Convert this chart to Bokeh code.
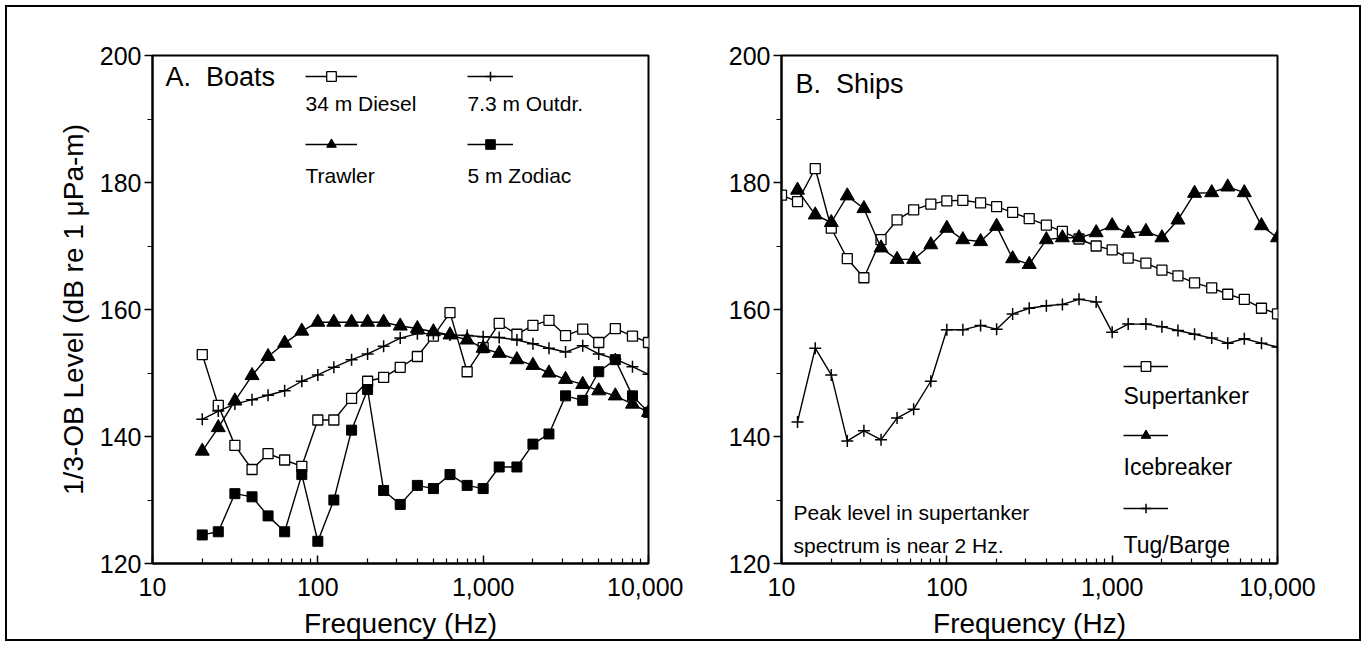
from bokeh.plotting import figure
from bokeh.layouts import row
from bokeh.models import FixedTicker, Range1d, Label, Legend, LegendItem
from bokeh.embed import file_html
from bokeh.resources import INLINE

# ---------------- data ----------------
freq_boats = [20, 25, 31.5, 40, 50, 63, 80, 100, 125, 160, 200, 250, 315, 400, 500,
              630, 800, 1000, 1250, 1600, 2000, 2500, 3150, 4000, 5000, 6300, 8000, 10000]
diesel = [152.9, 144.9, 138.6, 134.8, 137.3, 136.3, 135.3, 142.6, 142.6, 146.0, 148.7, 149.3,
          150.9, 152.6, 155.8, 159.5, 150.2, 154.0, 157.8, 156.1, 157.5, 158.3, 155.9, 156.9,
          154.8, 157.0, 155.8, 154.8]
outdr = [142.7, 144.0, 145.1, 145.8, 146.5, 147.2, 148.7, 149.7, 150.9, 152.1, 153.0, 154.2,
         155.5, 156.2, 156.2, 156.0, 155.9, 155.7, 155.6, 155.2, 154.6, 153.9, 153.3, 154.3,
         153.0, 152.2, 151.0, 149.8]
trawler = [137.7, 141.4, 145.6, 149.6, 152.6, 154.7, 156.6, 158.0, 158.0, 158.0, 158.0, 158.0,
           157.4, 157.0, 156.5, 156.0, 155.2, 153.9, 153.1, 152.1, 151.2, 150.0, 149.0, 148.2,
           147.2, 146.4, 145.1, 143.8]
zodiac = [124.5, 125.0, 131.0, 130.5, 127.5, 125.0, 134.0, 123.5, 130.0, 141.0, 147.4, 131.5,
          129.3, 132.3, 131.8, 134.0, 132.3, 131.8, 135.2, 135.2, 138.8, 140.4, 146.4, 145.7,
          150.2, 152.1, 146.4, 143.8]

freq_super = [10, 12.5, 16, 20, 25, 31.5, 40, 50, 63, 80, 100, 125, 160, 200, 250, 315, 400,
              500, 630, 800, 1000, 1250, 1600, 2000, 2500, 3150, 4000, 5000, 6300, 8000, 10000]
supertanker = [178.0, 177.0, 182.2, 172.8, 168.0, 165.0, 171.0, 174.1, 175.7, 176.6, 177.1,
               177.2, 176.8, 176.2, 175.3, 174.3, 173.3, 172.3, 171.1, 170.0, 169.4, 168.1,
               167.3, 166.2, 165.3, 164.2, 163.4, 162.4, 161.6, 160.2, 159.3]
freq_ships = [12.5, 16, 20, 25, 31.5, 40, 50, 63, 80, 100, 125, 160, 200, 250, 315, 400,
              500, 630, 800, 1000, 1250, 1600, 2000, 2500, 3150, 4000, 5000, 6300, 8000, 10000]
icebreaker = [178.8, 174.9, 173.7, 177.9, 175.9, 169.7, 167.9, 167.9, 170.2, 172.8, 171.0,
              170.7, 173.1, 168.0, 167.1, 171.0, 171.3, 171.3, 172.1, 173.2, 172.0, 172.3,
              171.3, 174.1, 178.3, 178.4, 179.3, 178.4, 173.2, 171.3]
tug = [142.3, 153.9, 149.7, 139.3, 140.9, 139.5, 142.9, 144.3, 148.7, 156.8, 156.8, 157.5,
       156.9, 159.3, 160.2, 160.6, 160.8, 161.6, 161.2, 156.4, 157.7, 157.7, 157.3, 156.7,
       156.1, 155.5, 154.7, 155.4, 154.7, 154.1]

x_major = [10, 100, 1000, 10000]
x_major_labels = ["10", "100", "1,000", "10,000"]
x_minor = [20, 30, 40, 50, 60, 70, 80, 90, 200, 300, 400, 500, 600, 700, 800, 900,
           2000, 3000, 4000, 5000, 6000, 7000, 8000, 9000]
y_major = [120, 140, 160, 180, 200]
y_minor = [130, 150, 170, 190]

FONT = "Liberation Sans"


def make_fig(width, ml, mr, mt, mb, ylabel):
    p = figure(width=width, height=646, x_axis_type="log", output_backend="svg",
               toolbar_location=None, x_range=Range1d(10, 10000), y_range=Range1d(120, 200),
               min_border_left=ml, min_border_right=mr, min_border_top=mt, min_border_bottom=mb)
    p.grid.visible = False
    p.outline_line_color = "black"
    p.outline_line_width = 2
    p.background_fill_color = "white"
    p.border_fill_alpha = 0
    xa = p.xaxis[0]
    xa.ticker = FixedTicker(ticks=x_major, minor_ticks=x_minor)
    xa.major_label_overrides = {t: l for t, l in zip(x_major, x_major_labels)}
    xa.major_tick_in = 8
    xa.major_tick_out = 0
    xa.minor_tick_in = 5
    xa.minor_tick_out = 0
    xa.axis_label = "Frequency (Hz)"
    xa.major_label_standoff = 14
    xa.axis_label_standoff = 9
    ya = p.yaxis[0]
    ya.ticker = FixedTicker(ticks=y_major, minor_ticks=y_minor)
    ya.major_tick_in = 0
    ya.major_tick_out = 8
    ya.minor_tick_in = 0
    ya.minor_tick_out = 5
    ya.major_label_standoff = 3
    if ylabel:
        ya.axis_label = ylabel
        ya.axis_label_standoff = 8
    for ax in (xa, ya):
        ax.axis_line_width = 2
        ax.axis_line_color = "black"
        ax.major_tick_line_width = 1.5
        ax.minor_tick_line_width = 1.2
        ax.major_label_text_font = FONT
        ax.major_label_text_font_size = "25px"
        ax.major_label_text_color = "black"
        ax.axis_label_text_font = FONT
        ax.axis_label_text_font_size = "28px"
        ax.axis_label_text_font_style = "normal"
        ax.axis_label_text_color = "black"
    return p


def series(p, xs, ys, kind):
    ln = p.line(xs, ys, line_color="black", line_width=1.4)
    if kind == "open_square":
        sc = p.scatter(xs, ys, marker="square", size=10, fill_color="white",
                       line_color="black", line_width=1.3)
    elif kind == "triangle":
        sc = p.scatter(xs, ys, marker="triangle", size=14, fill_color="black",
                       line_color="black")
    elif kind == "square":
        sc = p.scatter(xs, ys, marker="square", size=10, fill_color="black",
                       line_color="black")
    else:
        sc = p.scatter(xs, ys, marker="cross", size=12, line_color="black", line_width=1.5)
    return [ln, sc]


def key(p, rends, x, y, w):
    lg = Legend(items=[LegendItem(label=" ", renderers=rends)], location=(x, y),
                glyph_width=w, glyph_height=24, padding=0, margin=0, spacing=0,
                label_standoff=0, label_width=1, label_height=24,
                label_text_font_size="6px", border_line_color=None,
                background_fill_alpha=0)
    p.add_layout(lg, "center")


def text(p, x, y, s, size):
    p.add_layout(Label(x=x, y=y, x_units="screen", y_units="screen", text=s,
                       text_font=FONT, text_font_size=size, text_color="black",
                       text_baseline="middle", text_align="left"))


# ---------------- panel A ----------------
pa = make_fig(683, 152, 35, 55, 79, "1/3-OB Level (dB re 1 \u03bcPa-m)")
r_d = series(pa, freq_boats, diesel, "open_square")
r_o = series(pa, freq_boats, outdr, "plus")
r_t = series(pa, freq_boats, trawler, "triangle")
r_z = series(pa, freq_boats, zodiac, "square")
text(pa, 13, 487, "A.\u00a0 Boats", "27px")
key(pa, r_d, 153, 475, 52)
key(pa, r_o, 315, 475, 46)
key(pa, r_t, 153, 407, 52)
key(pa, r_z, 315, 407, 46)
text(pa, 153, 460, "34 m Diesel", "21px")
text(pa, 315, 460, "7.3 m Outdr.", "21px")
text(pa, 153, 388, "Trawler", "21px")
text(pa, 315, 388, "5 m Zodiac", "21px")

# ---------------- panel B ----------------
pb = make_fig(683, 98, 89, 51, 83, None)
r_s = series(pb, freq_super, supertanker, "open_square")
r_i = series(pb, freq_ships, icebreaker, "triangle")
r_g = series(pb, freq_ships, tug, "plus")
text(pb, 14, 480, "B.\u00a0 Ships", "27px")
key(pb, r_s, 342, 185, 45)
key(pb, r_i, 342, 116, 45)
key(pb, r_g, 342, 43, 45)
text(pb, 342, 168, "Supertanker", "23px")
text(pb, 342, 97, "Icebreaker", "23px")
text(pb, 342, 19, "Tug/Barge", "23px")
text(pb, 12, 51, "Peak level in supertanker", "21px")
text(pb, 12, 18, "spectrum is near 2 Hz.", "21px")

layout = row(pa, pb, styles={"outline": "2px solid black", "outline-offset": "-7px"})
open("out.html", "w").write(file_html(layout, INLINE))
